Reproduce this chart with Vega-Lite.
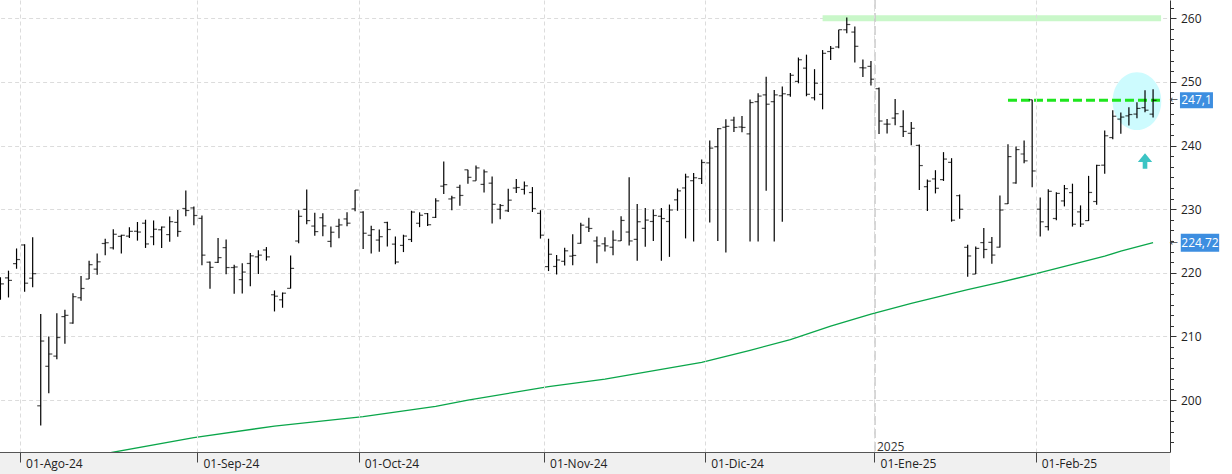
{
  "$schema": "https://vega.github.io/schema/vega-lite/v6.json",
  "width": 1170,
  "height": 452,
  "autosize": {"type": "none"},
  "padding": {"left": 0, "top": 0, "right": 62, "bottom": 22},
  "background": "white",
  "config": {"view": {"stroke": null}, "font": "Open Sans"},
  "datasets": {
    "bars": [
      {"d":"2024-07-29","o":216.96,"h":219.30,"l":215.75,"c":218.24},
      {"d":"2024-07-30","o":219.19,"h":220.33,"l":216.12,"c":218.80},
      {"d":"2024-07-31","o":221.44,"h":223.82,"l":220.63,"c":222.08},
      {"d":"2024-08-01","o":224.37,"h":224.48,"l":217.02,"c":218.36},
      {"d":"2024-08-02","o":219.15,"h":225.60,"l":217.71,"c":219.86},
      {"d":"2024-08-05","o":199.09,"h":213.50,"l":196.00,"c":209.27},
      {"d":"2024-08-06","o":205.30,"h":209.99,"l":201.07,"c":207.23},
      {"d":"2024-08-07","o":206.90,"h":213.64,"l":206.39,"c":209.82},
      {"d":"2024-08-08","o":213.11,"h":214.20,"l":208.83,"c":213.31},
      {"d":"2024-08-09","o":212.10,"h":216.78,"l":211.97,"c":216.24},
      {"d":"2024-08-12","o":216.07,"h":219.51,"l":215.60,"c":217.53},
      {"d":"2024-08-13","o":219.01,"h":221.89,"l":219.01,"c":221.27},
      {"d":"2024-08-14","o":220.57,"h":223.03,"l":219.70,"c":221.72},
      {"d":"2024-08-15","o":224.60,"h":225.35,"l":222.76,"c":224.72},
      {"d":"2024-08-16","o":223.92,"h":226.83,"l":223.65,"c":226.05},
      {"d":"2024-08-19","o":225.72,"h":225.99,"l":223.04,"c":225.89},
      {"d":"2024-08-20","o":225.77,"h":227.17,"l":225.45,"c":226.51},
      {"d":"2024-08-21","o":226.52,"h":227.98,"l":225.05,"c":226.40},
      {"d":"2024-08-22","o":227.79,"h":228.34,"l":223.90,"c":224.53},
      {"d":"2024-08-23","o":225.66,"h":228.22,"l":224.33,"c":226.84},
      {"d":"2024-08-26","o":226.76,"h":227.28,"l":223.89,"c":227.18},
      {"d":"2024-08-27","o":226.00,"h":228.85,"l":224.89,"c":228.03},
      {"d":"2024-08-28","o":227.92,"h":229.86,"l":225.68,"c":226.49},
      {"d":"2024-08-29","o":230.10,"h":232.92,"l":228.88,"c":229.79},
      {"d":"2024-08-30","o":230.19,"h":230.40,"l":227.48,"c":229.00},
      {"d":"2024-09-03","o":228.55,"h":229.00,"l":221.17,"c":222.77},
      {"d":"2024-09-04","o":221.66,"h":221.78,"l":217.48,"c":220.85},
      {"d":"2024-09-05","o":221.63,"h":225.48,"l":221.52,"c":222.38},
      {"d":"2024-09-06","o":223.95,"h":225.24,"l":219.77,"c":220.82},
      {"d":"2024-09-09","o":220.82,"h":221.27,"l":216.71,"c":220.91},
      {"d":"2024-09-10","o":218.92,"h":221.48,"l":216.73,"c":220.11},
      {"d":"2024-09-11","o":221.46,"h":223.09,"l":217.89,"c":222.66},
      {"d":"2024-09-12","o":222.50,"h":223.55,"l":219.82,"c":222.77},
      {"d":"2024-09-13","o":223.58,"h":224.04,"l":221.91,"c":222.50},
      {"d":"2024-09-16","o":216.54,"h":217.22,"l":213.92,"c":216.32},
      {"d":"2024-09-17","o":215.75,"h":216.90,"l":214.50,"c":216.79},
      {"d":"2024-09-18","o":217.55,"h":222.71,"l":217.54,"c":220.69},
      {"d":"2024-09-19","o":224.99,"h":229.82,"l":224.63,"c":228.87},
      {"d":"2024-09-20","o":229.97,"h":233.09,"l":227.62,"c":228.20},
      {"d":"2024-09-23","o":227.34,"h":229.45,"l":225.81,"c":226.47},
      {"d":"2024-09-24","o":228.65,"h":229.35,"l":225.73,"c":227.37},
      {"d":"2024-09-25","o":224.93,"h":227.29,"l":224.02,"c":226.37},
      {"d":"2024-09-26","o":227.30,"h":228.50,"l":225.41,"c":227.52},
      {"d":"2024-09-27","o":228.46,"h":229.52,"l":227.30,"c":227.79},
      {"d":"2024-09-30","o":230.04,"h":233.00,"l":229.65,"c":233.00},
      {"d":"2024-10-01","o":229.52,"h":229.65,"l":223.74,"c":226.21},
      {"d":"2024-10-02","o":225.89,"h":227.37,"l":223.02,"c":226.78},
      {"d":"2024-10-03","o":225.14,"h":226.81,"l":223.32,"c":225.67},
      {"d":"2024-10-04","o":227.90,"h":228.00,"l":224.13,"c":226.80},
      {"d":"2024-10-07","o":224.50,"h":225.69,"l":221.33,"c":221.69},
      {"d":"2024-10-08","o":224.30,"h":225.98,"l":223.25,"c":225.77},
      {"d":"2024-10-09","o":225.23,"h":229.75,"l":224.83,"c":229.54},
      {"d":"2024-10-10","o":227.78,"h":229.50,"l":227.17,"c":229.04},
      {"d":"2024-10-11","o":229.30,"h":229.41,"l":227.34,"c":227.55},
      {"d":"2024-10-14","o":228.70,"h":231.73,"l":228.60,"c":231.30},
      {"d":"2024-10-15","o":233.61,"h":237.49,"l":232.37,"c":233.85},
      {"d":"2024-10-16","o":231.60,"h":232.12,"l":229.84,"c":231.78},
      {"d":"2024-10-17","o":233.43,"h":233.85,"l":230.52,"c":232.15},
      {"d":"2024-10-18","o":236.18,"h":236.18,"l":234.01,"c":235.00},
      {"d":"2024-10-21","o":234.45,"h":236.85,"l":234.45,"c":236.48},
      {"d":"2024-10-22","o":233.89,"h":236.22,"l":232.60,"c":235.86},
      {"d":"2024-10-23","o":234.08,"h":235.14,"l":227.76,"c":230.76},
      {"d":"2024-10-24","o":229.98,"h":230.82,"l":228.41,"c":230.57},
      {"d":"2024-10-25","o":229.74,"h":233.22,"l":229.57,"c":231.41},
      {"d":"2024-10-28","o":233.32,"h":234.73,"l":232.55,"c":233.40},
      {"d":"2024-10-29","o":233.10,"h":234.33,"l":232.32,"c":233.67},
      {"d":"2024-10-30","o":232.61,"h":233.47,"l":229.55,"c":230.10},
      {"d":"2024-10-31","o":229.34,"h":229.83,"l":225.37,"c":225.91},
      {"d":"2024-11-01","o":220.97,"h":225.35,"l":220.27,"c":222.91},
      {"d":"2024-11-04","o":220.99,"h":222.79,"l":219.71,"c":222.01},
      {"d":"2024-11-05","o":221.80,"h":223.95,"l":221.14,"c":223.45},
      {"d":"2024-11-06","o":222.61,"h":226.07,"l":221.19,"c":222.72},
      {"d":"2024-11-07","o":224.63,"h":227.88,"l":224.57,"c":227.48},
      {"d":"2024-11-08","o":227.17,"h":228.66,"l":226.41,"c":226.96},
      {"d":"2024-11-11","o":225.00,"h":225.70,"l":221.50,"c":224.23},
      {"d":"2024-11-12","o":224.55,"h":225.59,"l":223.36,"c":224.23},
      {"d":"2024-11-13","o":224.01,"h":226.65,"l":222.76,"c":225.12},
      {"d":"2024-11-14","o":225.02,"h":228.87,"l":225.00,"c":228.22},
      {"d":"2024-11-15","o":226.40,"h":235.00,"l":224.27,"c":225.00},
      {"d":"2024-11-18","o":225.25,"h":230.80,"l":221.90,"c":228.02},
      {"d":"2024-11-19","o":226.98,"h":230.16,"l":224.10,"c":228.28},
      {"d":"2024-11-20","o":228.06,"h":229.93,"l":225.00,"c":229.00},
      {"d":"2024-11-21","o":228.88,"h":230.16,"l":221.90,"c":228.52},
      {"d":"2024-11-22","o":228.06,"h":230.72,"l":222.50,"c":229.87},
      {"d":"2024-11-25","o":231.46,"h":233.25,"l":229.74,"c":232.87},
      {"d":"2024-11-26","o":233.33,"h":235.57,"l":225.40,"c":235.06},
      {"d":"2024-11-27","o":234.47,"h":235.69,"l":224.90,"c":234.93},
      {"d":"2024-11-29","o":234.81,"h":237.81,"l":233.97,"c":237.33},
      {"d":"2024-12-02","o":237.27,"h":240.79,"l":227.90,"c":239.59},
      {"d":"2024-12-03","o":239.81,"h":242.76,"l":225.00,"c":242.65},
      {"d":"2024-12-04","o":242.87,"h":244.11,"l":223.20,"c":243.01},
      {"d":"2024-12-05","o":243.99,"h":244.54,"l":242.13,"c":242.84},
      {"d":"2024-12-06","o":242.91,"h":244.63,"l":242.08,"c":242.84},
      {"d":"2024-12-09","o":241.83,"h":247.24,"l":224.90,"c":246.75},
      {"d":"2024-12-10","o":246.89,"h":248.21,"l":224.90,"c":247.77},
      {"d":"2024-12-11","o":247.96,"h":250.80,"l":232.90,"c":246.49},
      {"d":"2024-12-12","o":246.89,"h":248.74,"l":224.90,"c":247.96},
      {"d":"2024-12-13","o":247.82,"h":249.29,"l":228.00,"c":248.13},
      {"d":"2024-12-16","o":247.99,"h":251.38,"l":247.65,"c":251.04},
      {"d":"2024-12-17","o":250.08,"h":253.83,"l":249.78,"c":253.48},
      {"d":"2024-12-18","o":252.16,"h":254.28,"l":247.74,"c":248.05},
      {"d":"2024-12-19","o":247.50,"h":252.00,"l":247.09,"c":249.79},
      {"d":"2024-12-20","o":248.04,"h":255.00,"l":245.69,"c":254.49},
      {"d":"2024-12-23","o":254.77,"h":255.65,"l":253.45,"c":255.27},
      {"d":"2024-12-24","o":255.49,"h":258.21,"l":255.29,"c":258.20},
      {"d":"2024-12-26","o":258.19,"h":260.10,"l":257.63,"c":259.02},
      {"d":"2024-12-27","o":257.83,"h":258.70,"l":253.06,"c":255.59},
      {"d":"2024-12-30","o":252.23,"h":253.50,"l":250.75,"c":252.20},
      {"d":"2024-12-31","o":252.44,"h":253.28,"l":249.43,"c":250.42},
      {"d":"2025-01-02","o":248.93,"h":249.10,"l":241.82,"c":243.85},
      {"d":"2025-01-03","o":243.36,"h":244.18,"l":241.89,"c":243.36},
      {"d":"2025-01-06","o":244.31,"h":247.33,"l":243.20,"c":245.00},
      {"d":"2025-01-07","o":242.98,"h":245.55,"l":241.35,"c":242.21},
      {"d":"2025-01-08","o":241.92,"h":243.71,"l":240.05,"c":242.70},
      {"d":"2025-01-10","o":240.01,"h":240.16,"l":233.00,"c":236.85},
      {"d":"2025-01-13","o":233.53,"h":234.67,"l":229.72,"c":234.40},
      {"d":"2025-01-14","o":234.75,"h":236.12,"l":232.47,"c":233.28},
      {"d":"2025-01-15","o":234.64,"h":238.96,"l":234.43,"c":237.87},
      {"d":"2025-01-16","o":237.35,"h":238.01,"l":228.03,"c":228.26},
      {"d":"2025-01-17","o":232.12,"h":232.29,"l":228.48,"c":229.98},
      {"d":"2025-01-21","o":224.00,"h":224.42,"l":219.38,"c":222.64},
      {"d":"2025-01-22","o":219.79,"h":224.12,"l":219.79,"c":223.83},
      {"d":"2025-01-23","o":224.74,"h":227.03,"l":222.30,"c":223.66},
      {"d":"2025-01-24","o":224.78,"h":225.63,"l":221.41,"c":222.78},
      {"d":"2025-01-27","o":224.02,"h":232.15,"l":223.98,"c":229.86},
      {"d":"2025-01-28","o":230.85,"h":240.19,"l":230.81,"c":238.26},
      {"d":"2025-01-29","o":234.12,"h":239.86,"l":234.01,"c":239.36},
      {"d":"2025-01-30","o":238.67,"h":240.79,"l":237.21,"c":237.59},
      {"d":"2025-01-31","o":247.19,"h":247.19,"l":233.44,"c":236.00},
      {"d":"2025-02-03","o":229.99,"h":231.83,"l":225.70,"c":228.01},
      {"d":"2025-02-04","o":227.25,"h":233.13,"l":226.65,"c":232.80},
      {"d":"2025-02-05","o":228.53,"h":232.67,"l":228.27,"c":232.47},
      {"d":"2025-02-06","o":231.29,"h":233.80,"l":230.43,"c":233.22},
      {"d":"2025-02-07","o":232.60,"h":234.00,"l":227.26,"c":227.63},
      {"d":"2025-02-10","o":229.57,"h":230.59,"l":227.20,"c":227.65},
      {"d":"2025-02-11","o":228.20,"h":235.23,"l":228.13,"c":232.62},
      {"d":"2025-02-12","o":231.20,"h":236.96,"l":230.68,"c":236.87},
      {"d":"2025-02-13","o":236.91,"h":242.34,"l":235.57,"c":241.53},
      {"d":"2025-02-14","o":241.25,"h":245.55,"l":240.99,"c":244.60},
      {"d":"2025-02-18","o":244.15,"h":245.18,"l":241.84,"c":244.47},
      {"d":"2025-02-19","o":244.66,"h":246.01,"l":243.16,"c":244.87},
      {"d":"2025-02-20","o":244.94,"h":246.78,"l":244.29,"c":245.83},
      {"d":"2025-02-21","o":245.95,"h":248.69,"l":245.22,"c":245.55},
      {"d":"2025-02-24","o":244.93,"h":248.86,"l":244.42,"c":247.10}
    ],
    "ma": [
      {"d":"2024-08-05","m":189.8},
      {"d":"2024-08-16","m":191.8},
      {"d":"2024-08-30","m":194.1},
      {"d":"2024-09-16","m":195.9},
      {"d":"2024-10-01","m":197.4},
      {"d":"2024-10-14","m":199.0},
      {"d":"2024-10-18","m":200.0},
      {"d":"2024-11-01","m":202.1},
      {"d":"2024-11-12","m":203.3},
      {"d":"2024-11-29","m":205.9},
      {"d":"2024-12-09","m":207.8},
      {"d":"2024-12-16","m":209.5},
      {"d":"2024-12-23","m":211.6},
      {"d":"2024-12-31","m":213.5},
      {"d":"2025-01-08","m":215.2},
      {"d":"2025-01-21","m":217.35},
      {"d":"2025-01-27","m":218.5},
      {"d":"2025-01-31","m":219.7},
      {"d":"2025-02-07","m":221.3},
      {"d":"2025-02-13","m":222.6},
      {"d":"2025-02-18","m":223.4},
      {"d":"2025-02-24","m":224.72}
    ]
  },
  "layer": [
    {
      "data": {"values": [{}]},
      "mark": {"type": "rect", "color": "#f0f0f0"},
      "encoding": {"y": {"datum": 191.83}, "y2": {"datum": 187}}
    },
    {
      "data": {"values": [{}]},
      "mark": {"type": "point", "filled": true, "opacity": 1, "color": "#cdfbfe", "size": 3329,
               "shape": "M-0.844,0 A0.844,1 0 1,0 0.844,0 A0.844,1 0 1,0 -0.844,0 Z"},
      "encoding": {"x": {"datum": "2025-02-20", "type": "ordinal"}, "y": {"datum": 246.97}}
    },
    {
      "data": {"values": [{}]},
      "mark": {"type": "rule", "color": "#c9f7c9", "strokeWidth": 6, "x2Offset": 8},
      "encoding": {"x": {"datum": "2024-12-20", "type": "ordinal"}, "x2": {"datum": "2025-02-24"}, "y": {"datum": 260}}
    },
    {
      "data": {"values": [{}]},
      "mark": {"type": "rule", "color": "#c8c8c8", "strokeWidth": 1.5, "strokeDash": [9, 4]},
      "encoding": {"x": {"datum": "2025-01-02", "type": "ordinal", "bandPosition": 0}}
    },
    {
      "data": {"values": [{}]},
      "mark": {"type": "text", "text": "2025", "align": "left", "baseline": "alphabetic", "dx": 2, "fontSize": 12, "color": "#333"},
      "encoding": {"x": {"datum": "2025-01-02", "type": "ordinal", "bandPosition": 0}, "y": {"datum": 192}}
    },
    {
      "data": {"name": "ma"},
      "mark": {"type": "line", "color": "#0aa64a", "strokeWidth": 1.3, "clip": true},
      "encoding": {"x": {"field": "d", "type": "ordinal"}, "y": {"field": "m", "type": "quantitative"}}
    },
    {
      "data": {"values": [{}]},
      "mark": {"type": "rule", "color": "#1ee61e", "strokeWidth": 3, "strokeDash": [9, 4], "x2Offset": 8},
      "encoding": {"x": {"datum": "2025-01-28", "type": "ordinal"}, "x2": {"datum": "2025-02-24"}, "y": {"datum": 247.1}}
    },
    {
      "data": {"name": "bars"},
      "mark": {"type": "rule", "color": "#000", "strokeWidth": 1.2},
      "encoding": {
        "x": {
          "field": "d", "type": "ordinal",
          "scale": {"type": "band", "range": [-3.6, 1170], "paddingInner": 0, "paddingOuter": 0.8, "align": 0},
          "axis": {
            "title": null, "orient": "bottom", "zindex": 1,
            "values": ["2024-08-01", "2024-09-03", "2024-10-01", "2024-11-01", "2024-12-02", "2025-01-02", "2025-02-03"],
            "bandPosition": 0,
            "labelExpr": "{'2024-08-01':'01-Ago-24','2024-09-03':'01-Sep-24','2024-10-01':'01-Oct-24','2024-11-01':'01-Nov-24','2024-12-02':'01-Dic-24','2025-01-02':'01-Ene-25','2025-02-03':'01-Feb-25'}[datum.value]",
            "labelAlign": "left", "labelOffset": 1.5, "labelPadding": 1.5, "labelAngle": 0,
            "labelFontSize": 12, "labelColor": "#222", "labelOverlap": false, "labelFlush": false,
            "tickSize": 10, "tickColor": "#444", "domainColor": "#555",
            "grid": true, "gridColor": "#dcdcdc", "gridDash": [4, 3]
          }
        },
        "y": {
          "field": "l", "type": "quantitative",
          "scale": {"domain": [191.83, 262.87], "nice": false, "zero": false},
          "axis": {
            "title": null, "orient": "right", "tickCount": 200,
            "values": [193.333,195,196.667,198.333,200,201.667,203.333,205,206.667,208.333,210,211.667,213.333,215,216.667,218.333,220,221.667,223.333,225,226.667,228.333,230,231.667,233.333,235,236.667,238.333,240,241.667,243.333,245,246.667,248.333,250,251.667,253.333,255,256.667,258.333,260,261.667],
            "labelExpr": "abs(datum.value - 10*round(datum.value/10)) < 0.01 ? format(datum.value, '.0f') : ''",
            "tickSize": {"condition": {"test": "abs(datum.value - 10*round(datum.value/10)) < 0.01", "value": 6}, "value": 3.5},
            "tickColor": "#333", "domainColor": "#333",
            "labelPadding": 4.5, "labelFontSize": 12, "labelColor": "#222", "labelOverlap": false, "labelFlush": false,
            "grid": true, "gridColor": "#dcdcdc", "gridDash": [4, 3],
            "gridOpacity": {"condition": {"test": "abs(datum.value - 10*round(datum.value/10)) < 0.01", "value": 1}, "value": 0}
          }
        },
        "y2": {"field": "h"}
      }
    },
    {
      "data": {"name": "bars"},
      "mark": {"type": "tick", "orient": "horizontal", "color": "#000", "size": 3.5, "thickness": 1.2, "xOffset": -1.75},
      "encoding": {"x": {"field": "d", "type": "ordinal"}, "y": {"field": "o", "type": "quantitative"}}
    },
    {
      "data": {"name": "bars"},
      "mark": {"type": "tick", "orient": "horizontal", "color": "#000", "size": 3.5, "thickness": 1.2, "xOffset": 1.75},
      "encoding": {"x": {"field": "d", "type": "ordinal"}, "y": {"field": "c", "type": "quantitative"}}
    },
    {
      "data": {"values": [{}]},
      "mark": {"type": "point", "filled": true, "opacity": 1, "color": "#3cc4c4", "size": 237,
               "shape": "M0,-1 L0.93,0.13 L0.3,0.13 L0.3,1 L-0.3,1 L-0.3,0.13 L-0.93,0.13 Z"},
      "encoding": {"x": {"datum": "2025-02-21", "type": "ordinal"}, "y": {"datum": 237.57}}
    },
    {
      "data": {"values": [{}]},
      "mark": {"type": "point", "filled": true, "opacity": 1, "color": "#3d8ee0", "size": 1600, "xOffset": 43.4,
               "shape": "M-0.825,-0.4 L0.825,-0.4 L0.825,0.4 L-0.825,0.4 Z"},
      "encoding": {"x": {"datum": "2025-02-24", "type": "ordinal"}, "y": {"datum": 247.1}}
    },
    {
      "data": {"values": [{}]},
      "mark": {"type": "point", "filled": true, "opacity": 1, "color": "#3d8ee0", "size": 1600, "xOffset": 46.9,
               "shape": "M-0.96,-0.45 L0.96,-0.45 L0.96,0.45 L-0.96,0.45 Z"},
      "encoding": {"x": {"datum": "2025-02-24", "type": "ordinal"}, "y": {"datum": 224.72}}
    },
    {
      "data": {"values": [{}]},
      "mark": {"type": "text", "text": "247,1", "color": "white", "fontSize": 12, "align": "center", "baseline": "middle", "dx": 43.4},
      "encoding": {"x": {"datum": "2025-02-24", "type": "ordinal"}, "y": {"datum": 247.1}}
    },
    {
      "data": {"values": [{}]},
      "mark": {"type": "text", "text": "224,72", "color": "white", "fontSize": 12, "align": "center", "baseline": "middle", "dx": 46.9},
      "encoding": {"x": {"datum": "2025-02-24", "type": "ordinal"}, "y": {"datum": 224.72}}
    },
    {
      "data": {"values": [{}]},
      "mark": {"type": "text", "text": "←", "color": "#444", "fontSize": 10, "align": "center", "baseline": "middle", "dx": 20.7, "font": "DejaVu Sans"},
      "encoding": {"x": {"datum": "2025-02-24", "type": "ordinal"}, "y": {"datum": 247.1}}
    },
    {
      "data": {"values": [{}]},
      "mark": {"type": "text", "text": "←", "color": "#444", "fontSize": 10, "align": "center", "baseline": "middle", "dx": 20.7, "font": "DejaVu Sans"},
      "encoding": {"x": {"datum": "2025-02-24", "type": "ordinal"}, "y": {"datum": 224.72}}
    }
  ]
}
